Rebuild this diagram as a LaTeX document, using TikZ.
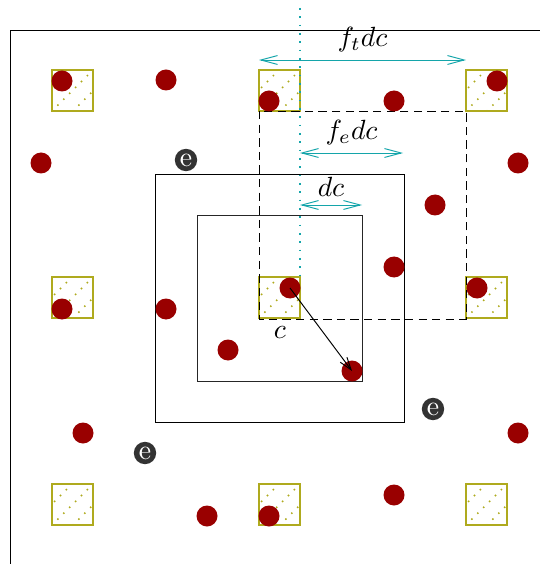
\documentclass[tikz,border=0pt]{standalone}
\usetikzlibrary{arrows.meta}

\definecolor{dotred}{RGB}{153,0,0}
\definecolor{siteolive}{RGB}{175,170,30}
\definecolor{dimcyan}{RGB}{20,165,170}
\definecolor{egray}{RGB}{51,51,51}

\tikzset{
  % olive lattice site with a dotted diagonal fill
  site/.style={draw=siteolive, line width=0.45pt, minimum size=14.76pt, inner sep=0pt,
    path picture={
      \foreach \k in {-2,...,1}{
        \foreach \m in {0,...,7}{
          \fill[siteolive] ([shift={(\k*21+\m*5.9,-\m*5.9)}]path picture bounding box.south west) circle (0.38pt);
        }
      }
    }},
  particle/.style={circle, fill=dotred, minimum size=7.56pt, inner sep=0pt},
  elec/.style={circle, fill=egray, text=white, inner sep=0.6pt, font=\normalsize},
  dimarrow/.style={draw=dimcyan, line width=0.35pt,
    arrows={Straight Barb[length=6pt,width=3.2pt]-Straight Barb[length=6pt,width=3.2pt]}},
  cellbox/.style={draw=black, line width=0.35pt},
}

\begin{document}
\begin{tikzpicture}[x=0.36pt, y=-0.36pt]
\useasboundingbox (0,0) rectangle (540,564);

% frame edges (top and left)
\draw[line width=0.35pt] (10,564) -- (10,30) -- (540,30);

% lattice sites
\foreach \i/\x in {0/72.5,1/279.5,2/486.5}{
  \foreach \j/\y in {0/90.5,1/297.5,2/504.5}{
    \node[site] (s\i\j) at (\x,\y) {};
  }
}

% dashed unit cell
\draw[dash pattern=on 3pt off 1.9pt, line width=0.35pt] (259,111) rectangle (466,319);

% cutoff boxes
\draw[cellbox] (155,174) rectangle (404,422);
\draw[cellbox, draw=black!85] (197,215) rectangle (362,381);

% cyan guide line
\coordinate (gtop) at (300,8);
\coordinate (gbot) at (300,278);
\draw[dimcyan, line width=0.5pt, dash pattern=on 0.6pt off 2.4pt] (gtop) -- (gbot);

% dimension arrows
\coordinate (ftL) at (259,60);  \coordinate (ftR) at (466,60);
\coordinate (feL) at (300,153); \coordinate (feR) at (403,153);
\coordinate (dcL) at (300,205); \coordinate (dcR) at (362,205);
\draw[dimarrow] (ftL) -- node[above=-0.5pt, text=black] (ftlab) {$f_t dc$} (ftR);
\draw[dimarrow] (feL) -- node[above=-0.5pt, text=black] (felab) {$f_e dc$} (feR);
\draw[dimarrow] (dcL) -- node[above=-0.5pt, text=black] (dclab) {$dc$} (dcR);

% particles
\foreach \n/\x/\y in {
  p1/62/81, p2/166/80, p3/269/101, p4/394/101, p5/497/81,
  p6/41/163, p7/518/163, p8/435/205, p9/394/267,
  p10/62/309, p11/166/309, p12/290/288, p13/477/288,
  p14/228/350, p15/352/371,
  p16/83/433, p17/518/433,
  p18/207/516, p19/269/516, p20/394/495}{
  \node[particle] (\n) at (\x,\y) {};
}

% cutoff vector
\draw[line width=0.35pt, -{Straight Barb[length=4.5pt,width=3pt]}] (p12.center) -- (p15.center);
\node (clab) at (280,333) {$c$};

% electrons
\node[elec] (e1) at (186,160) {e};
\node[elec] (e2) at (433,409) {e};
\node[elec] (e3) at (145,453) {e};
\end{tikzpicture}
\end{document}
